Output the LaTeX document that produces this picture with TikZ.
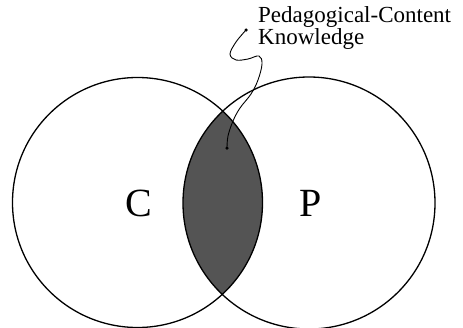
\documentclass[tikz,border=0pt]{standalone}
\usepackage{fontspec}
\setmainfont{Liberation Serif}
\begin{document}
\begin{tikzpicture}[x=1pt,y=-1pt,
  ring/.style={draw=black,line width=1.3pt},
  lens/.style={fill=black!67},
  letter/.style={font=\fontsize{40}{40}\selectfont,inner sep=0pt},
  lbl/.style={font=\fontsize{23}{22}\selectfont,align=left,inner sep=0pt,anchor=north west},
  squig/.style={draw=black,line width=0.9pt},
  tip/.style={circle,fill=black,inner sep=0pt,minimum size=3.5pt}]
\useasboundingbox (0,0) rectangle (463,327);
\coordinate (cc) at (137.5,202.5);
\coordinate (pc) at (309,203);
\begin{scope}
  \clip (cc) circle (125);
  \fill[lens] (pc) circle (126);
\end{scope}
\draw[ring] (cc) circle (125);
\draw[ring] (pc) circle (126);
\node[letter] (C) at (139,203) {C};
\node[letter] (P) at (311,203) {P};
\node[lbl] (pck) at (258,6) {Pedagogical-Content\\Knowledge};
\node[tip] (d1) at (246,30) {};
\node[tip] (d2) at (227,148) {};
\draw[squig] plot[smooth,tension=0.6] coordinates {(d1.center) (236,42) (230,54) (236,60) (248,59) (259,56) (262,64) (258,80) (251,94) (240,108) (233,121) (228,136) (d2.center)};
\end{tikzpicture}
\end{document}
